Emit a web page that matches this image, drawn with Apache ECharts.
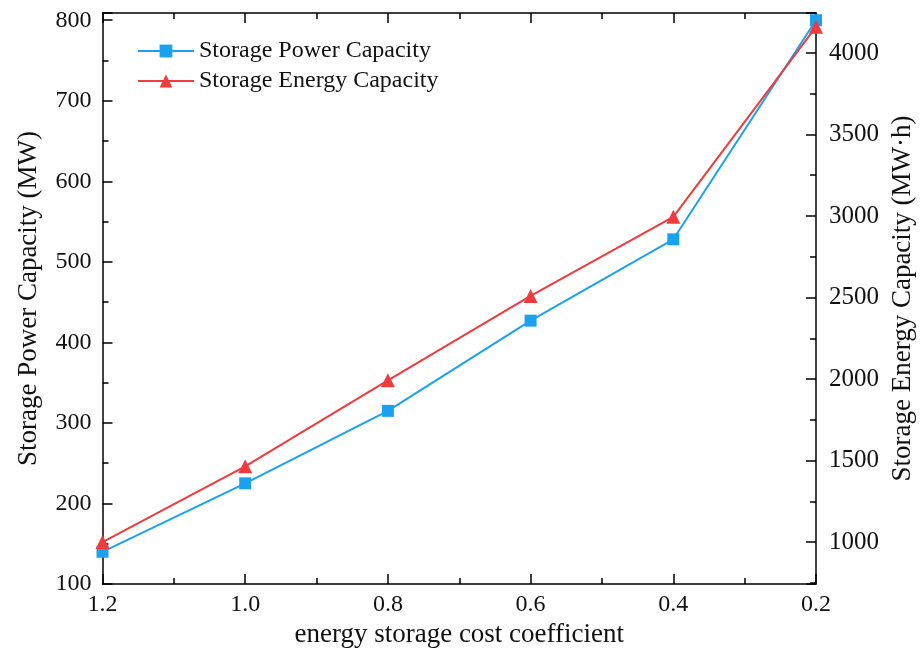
<!DOCTYPE html>
<html>
<head>
<meta charset="utf-8">
<script src="https://cdn.jsdelivr.net/npm/echarts@6/dist/echarts.min.js"></script>
<style>html,body{margin:0;padding:0;background:#fff}#c{width:920px;height:655px}</style>
</head>
<body>
<div id="c"></div>
<script>
const coefficients = [1.2, 1.0, 0.8, 0.6, 0.4, 0.2];
const powerCapacity = [140, 225, 315, 427, 528, 800];
const energyCapacity = [1000, 1465, 1992, 2510, 2995, 4160];
const seriesNames = ['Storage Power Capacity', 'Storage Energy Capacity'];
const xName = 'energy storage cost coefficient';
const leftName = 'Storage Power Capacity (MW)';
const rightName = 'Storage Energy Capacity (MW\u00b7h)';

const FONT = '"Liberation Serif", "DejaVu Serif", serif';
const BLUE = '#1aa2ee';
const RED = '#ee3b3e';
const axisLineStyle = {color: '#000', width: 1.5};
const tickStyle = {color: '#000', width: 1.5};

const chart = echarts.init(document.getElementById('c'));
chart.setOption({
  animation: false,
  backgroundColor: '#fff',
  grid: {left: 102.5, right: 104, top: 13, bottom: 71, containLabel: false, outerBoundsMode: 'none'},
  legend: {
    left: 132, top: 34, orient: 'vertical', itemGap: 6,
    itemWidth: 56, itemHeight: 16,
    textStyle: {fontFamily: FONT, fontSize: 24, color: '#111'},
    data: seriesNames
  },
  xAxis: [{
    type: 'value', inverse: true, min: 0.2, max: 1.2, interval: 0.2,
    name: xName, nameLocation: 'middle', nameGap: 35,
    nameTextStyle: {fontFamily: FONT, fontSize: 27, color: '#111'},
    axisLine: {show: true, lineStyle: axisLineStyle},
    axisTick: {show: true, inside: true, length: 10, lineStyle: tickStyle},
    minorTick: {show: true, splitNumber: 2, length: 6, lineStyle: tickStyle},
    axisLabel: {fontFamily: FONT, fontSize: 24, color: '#111', margin: 9,
      formatter: v => v.toFixed(1)},
    splitLine: {show: false}
  }, {
    type: 'value', inverse: true, min: 0.2, max: 1.2, interval: 0.2, position: 'top',
    axisLine: {show: true, lineStyle: axisLineStyle},
    axisTick: {show: true, inside: true, length: 10, lineStyle: tickStyle},
    minorTick: {show: true, splitNumber: 2, length: 6, lineStyle: tickStyle},
    axisLabel: {show: false},
    splitLine: {show: false}
  }],
  yAxis: [{
    type: 'value', min: 100, max: 809, minInterval: 100, maxInterval: 100,
    name: leftName, nameLocation: 'middle', nameGap: 60,
    nameTextStyle: {fontFamily: FONT, fontSize: 27, color: '#111'},
    axisLine: {show: true, lineStyle: axisLineStyle},
    axisTick: {show: true, inside: true, length: 10, lineStyle: tickStyle},
    minorTick: {show: true, splitNumber: 2, length: 6, lineStyle: tickStyle},
    axisLabel: {fontFamily: FONT, fontSize: 24, color: '#111', margin: 11,
      formatter: v => (Math.abs(v % 100) < 1e-6 ? String(v) : '')},
    splitLine: {show: false}
  }, {
    type: 'value', min: 743, max: 4245, minInterval: 500, maxInterval: 500, position: 'right',
    name: rightName, nameLocation: 'middle', nameGap: 71,
    nameTextStyle: {fontFamily: FONT, fontSize: 27, color: '#111'},
    axisLine: {show: true, lineStyle: axisLineStyle},
    axisTick: {show: true, inside: true, length: 10, lineStyle: tickStyle},
    minorTick: {show: true, splitNumber: 2, length: 6, lineStyle: tickStyle},
    axisLabel: {fontFamily: FONT, fontSize: 25, color: '#111', margin: 13,
      formatter: v => (Math.abs(v % 500) < 1e-6 ? String(v) : '')},
    splitLine: {show: false}
  }],
  series: [{
    name: seriesNames[0], type: 'line', xAxisIndex: 0, yAxisIndex: 0,
    data: coefficients.map((c, i) => [c, powerCapacity[i]]),
    symbol: 'rect', symbolSize: 12,
    lineStyle: {color: BLUE, width: 2},
    itemStyle: {color: BLUE},
    clip: false
  }, {
    name: seriesNames[1], type: 'line', xAxisIndex: 0, yAxisIndex: 1,
    data: coefficients.map((c, i) => [c, energyCapacity[i]]),
    symbol: 'triangle', symbolSize: 14,
    lineStyle: {color: RED, width: 2},
    itemStyle: {color: RED},
    clip: false
  }]
});
</script>
</body>
</html>
